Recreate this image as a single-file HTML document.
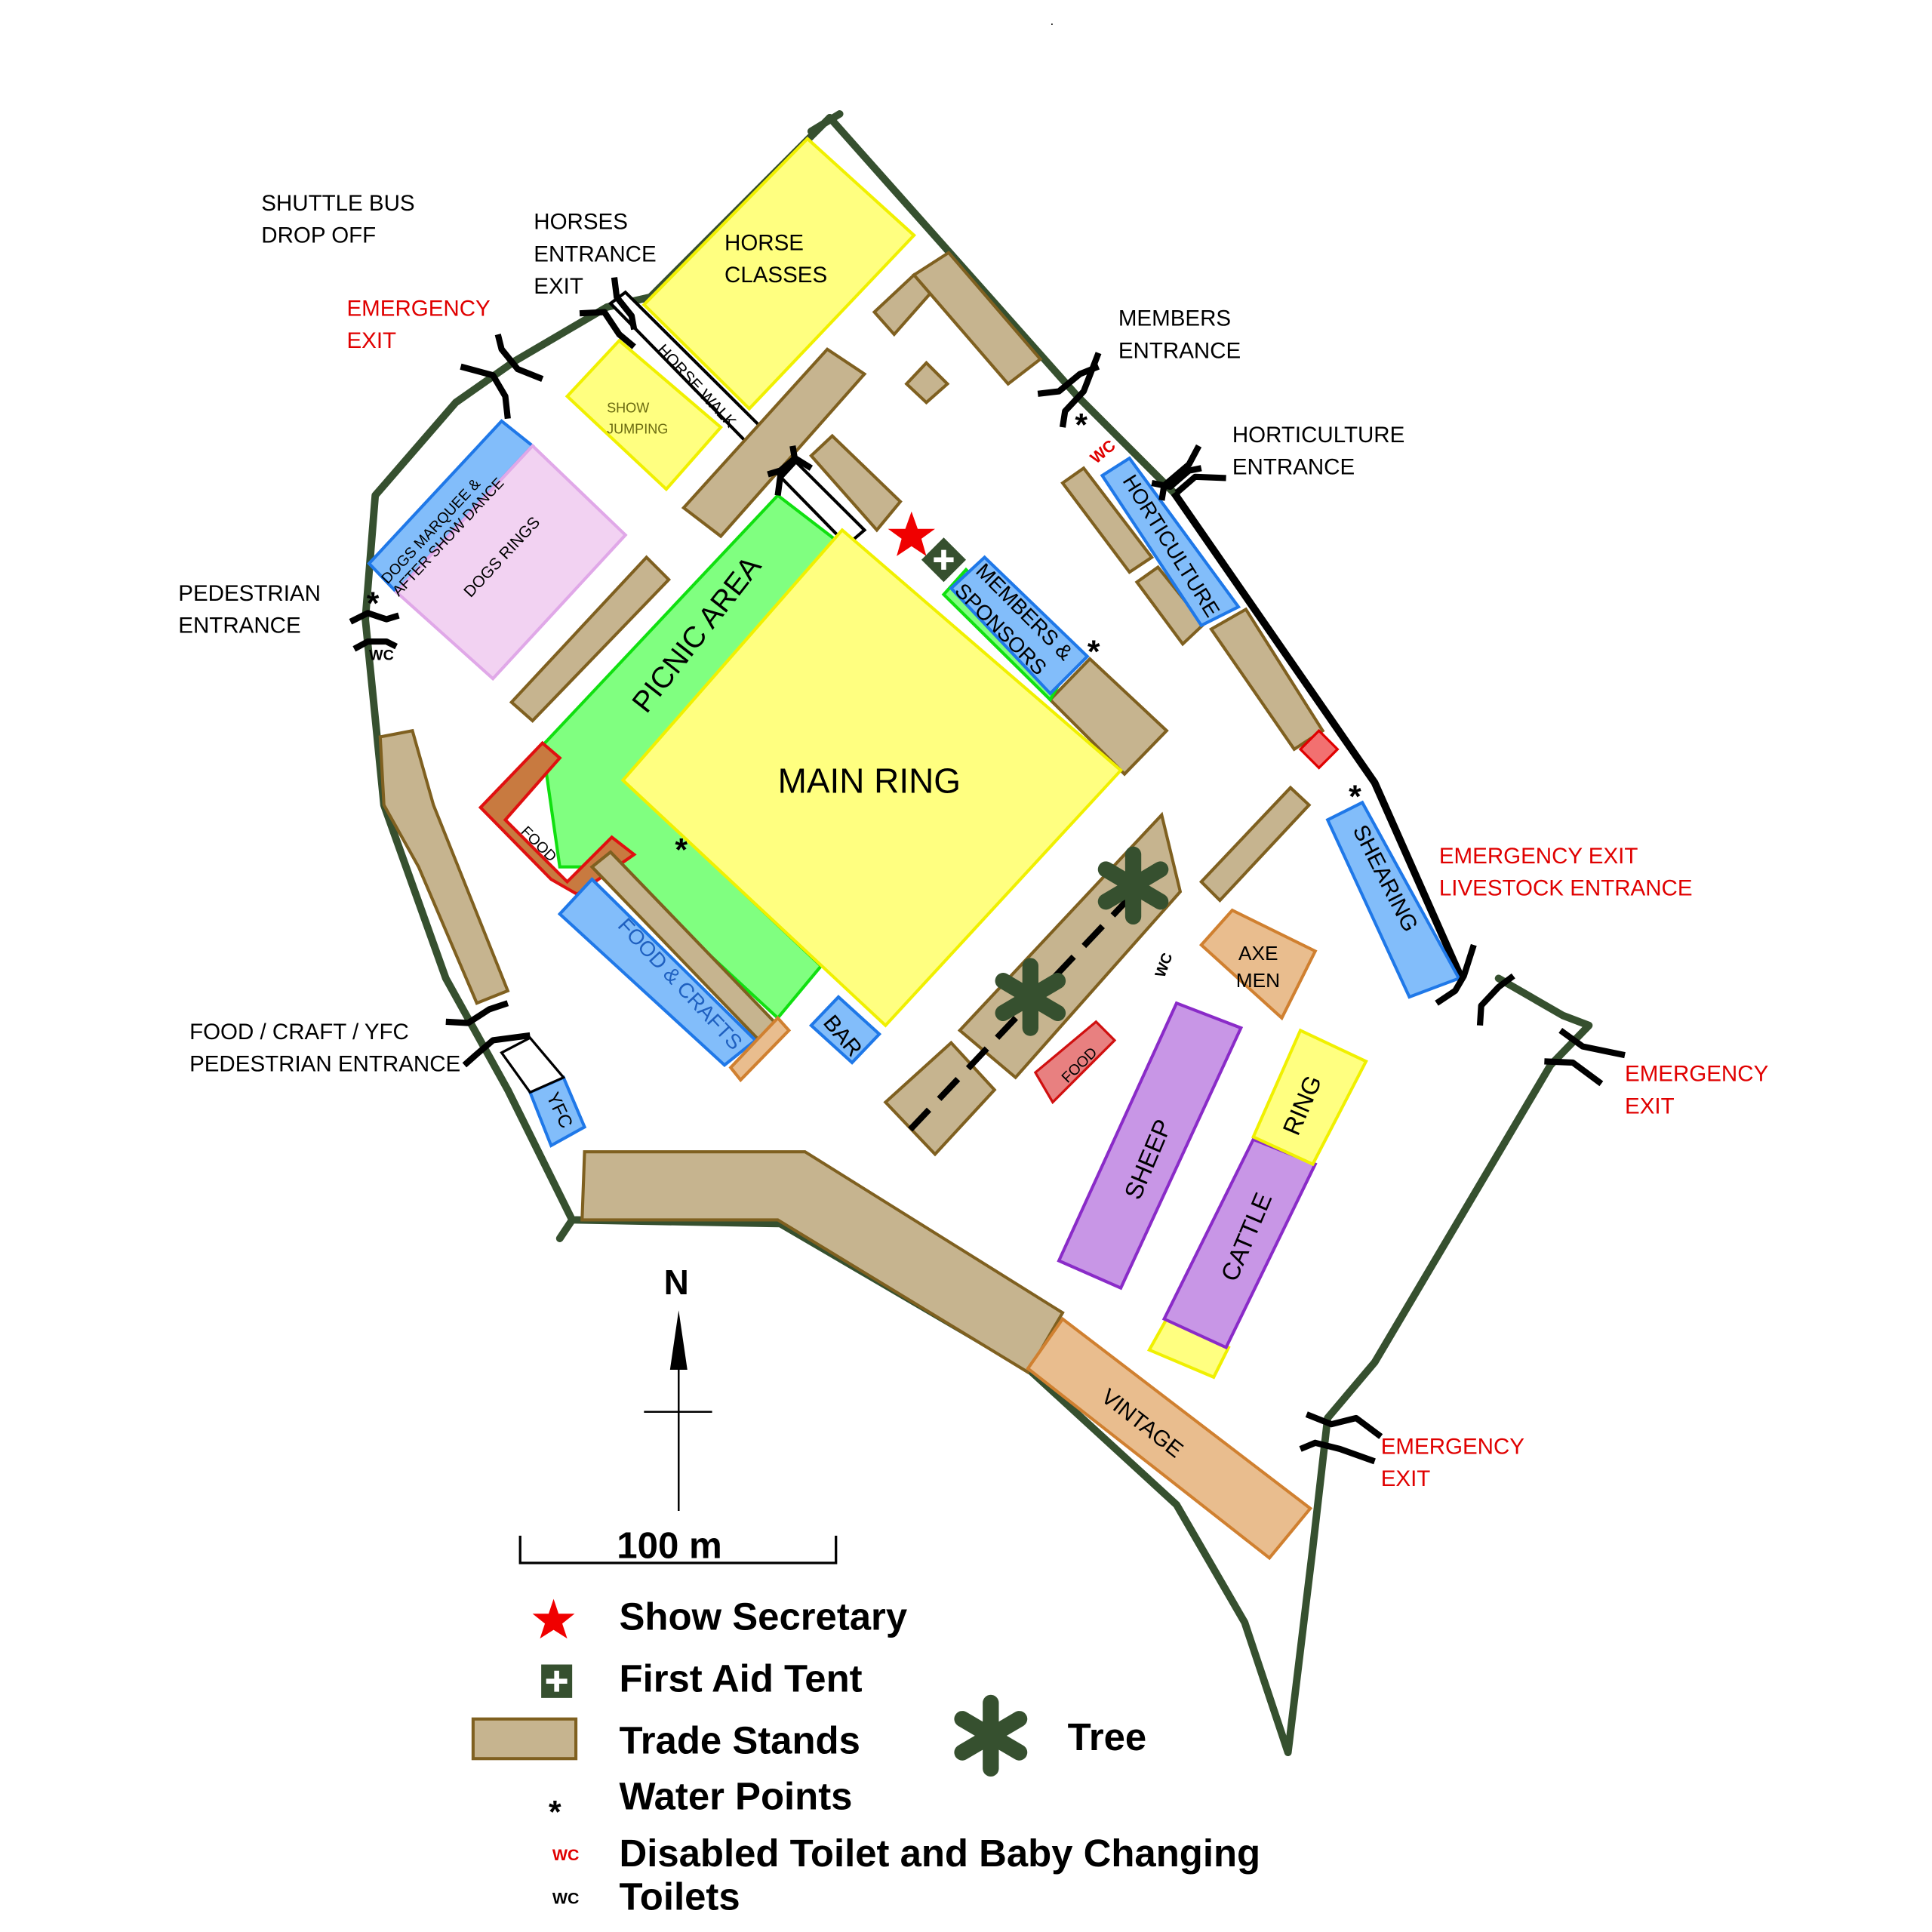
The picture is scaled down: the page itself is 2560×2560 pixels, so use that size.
<!DOCTYPE html>
<html><head><meta charset="utf-8"><style>
html,body{margin:0;padding:0;background:#fff}
svg{display:block}
text{font-family:"Liberation Sans","DejaVu Sans",sans-serif}
.t{fill:#c6b48f;stroke:#7f6020;stroke-width:2.5}
.b{fill:#82bdfa;stroke:#1f78e8;stroke-width:2.5}
.y{fill:#ffff80;stroke:#f0f000;stroke-width:2.5}
.g{fill:#80ff80;stroke:#10e010;stroke-width:2.5}
.p{fill:#c896e6;stroke:#8a2bc8;stroke-width:2.5}
.o{fill:#e9bd8e;stroke:#d08030;stroke-width:2.5}
.gate{fill:none;stroke:#000;stroke-width:5;stroke-linejoin:round}
.lb{font-size:18px;fill:#000}
.red{font-size:18px;fill:#e00000}
.lg{font-size:31px;font-weight:bold;fill:#000}
</style></head><body>
<svg width="2560" height="2560" viewBox="0 0 1560 1560" xmlns="http://www.w3.org/2000/svg">
<rect width="1560" height="1560" fill="#fff"/>
<!-- boundary -->
<g fill="none" stroke="#36502f" stroke-width="6" stroke-linejoin="round" stroke-linecap="round">
<path d="M678,92 L655,106 M670,95 L525,240 L490,248 L415,292 L368,325 L303,400 L295,500 L310,650 L360,790 L410,880 L462,985 L630,988 L830,1105 L950,1215 L1005,1310 L1040,1415 L1060,1250 L1072,1145 L1110,1100 L1252,860 L1283,828 L1262,820 L1210,790"/>
<path d="M670,95 L870,320 L950,400"/>
<path d="M462,985 L452,1000"/>
</g>
<path d="M948,398 L1110,632 L1180,790" fill="none" stroke="#000" stroke-width="6"/>
<!-- horse classes / show jumping -->
<polygon class="y" points="652,112 738,190 605,330 520,246"/>
<polygon class="y" points="500,275 582,345 538,395 458,320"/>
<text x="585" y="202" class="lb">HORSE</text><text x="585" y="228" class="lb">CLASSES</text>
<text x="490" y="333" font-size="11" fill="#6a6a10">SHOW</text><text x="490" y="350" font-size="11" fill="#6a6a10">JUMPING</text>
<!-- horse walk -->
<polygon points="493,245 505,236 698,428 684,440" fill="#fff" stroke="#000" stroke-width="2.5"/>
<text transform="translate(530,283) rotate(47)" font-size="13">HORSE WALK</text>
<!-- dogs -->
<polygon points="298,455 405,340 430,360 320,478" class="b"/>
<polygon points="430,360 505,432 398,548 320,478" fill="#f2d2f2" stroke="#e0a8e8" stroke-width="2.5"/>
<text transform="translate(313,472) rotate(-47)" font-size="12">DOGS MARQUEE &amp;</text>
<text transform="translate(322,482) rotate(-47)" font-size="12">AFTER SHOW DANCE</text>
<text transform="translate(380,483) rotate(-47)" font-size="13">DOGS RINGS</text>
<!-- trade stands -->
<polygon class="t" points="706,252 738,222 752,236 722,270"/>
<polygon class="t" points="738,222 766,204 840,290 814,310"/>
<polygon class="t" points="732,310 748,293 765,310 748,325"/>
<polygon class="t" points="552,410 668,282 698,302 582,433"/>
<polygon class="t" points="655,368 672,352 727,405 708,428"/>
<polygon class="t" points="413,567 522,450 540,468 430,582"/>
<polygon class="t" points="307,595 333,590 350,650 410,800 385,810 338,700 310,650"/>
<polygon class="t" points="858,390 875,378 930,450 912,462"/>
<polygon class="t" points="918,470 935,458 972,504 955,520"/>
<polygon class="t" points="978,508 1006,492 1068,590 1045,605"/>
<polygon class="t" points="848,565 880,532 942,590 908,625"/>
<polygon class="t" points="970,712 1042,636 1057,650 985,727"/>
<polygon class="t" points="775,832 938,658 953,720 820,870"/>
<polygon class="t" points="715,890 768,842 803,880 755,932"/>
<polygon class="t" points="472,930 650,930 858,1060 830,1108 628,985 470,985"/>
<!-- main ring & picnic -->
<polygon class="g" points="438,602 628,400 680,440 504,630 663,780 628,822 520,722 492,700 452,700"/>
<polygon class="y" points="680,428 905,622 715,828 503,630"/>
<polygon class="g" points="762,480 780,460 862,540 848,565"/>
<text x="628" y="640" font-size="28">MAIN RING</text>
<text transform="translate(522,577) rotate(-52)" font-size="24">PICNIC AREA</text>
<!-- food -->
<polygon points="388,652 438,600 452,612 408,662 458,712 494,676 512,690 466,722 445,710" fill="#c87a40" stroke="#e01010" stroke-width="2.5"/>
<text transform="translate(420,672) rotate(45)" font-size="12">FOOD</text>
<polygon class="t" points="478,700 493,688 628,828 613,840"/>
<polygon class="b" points="452,738 478,710 610,840 585,860"/>
<text transform="translate(498,748) rotate(47)" font-size="17" fill="#1f60c0">FOOD &amp; CRAFTS</text>
<polygon class="o" points="590,862 628,822 637,832 598,872"/>
<polygon class="b" points="655,828 677,805 710,835 688,858"/>
<text transform="translate(664,826) rotate(50)" font-size="18">BAR</text>
<polygon class="b" points="428,882 455,870 472,910 445,925"/>
<text transform="translate(441,885) rotate(65)" font-size="15">YFC</text>
<polygon points="405,850 428,838 455,870 428,882" fill="#fff" stroke="#000" stroke-width="2"/>
<!-- members & horticulture -->
<polygon class="b" points="768,475 795,450 878,530 848,560"/>
<text transform="translate(787,462) rotate(45)" font-size="17">MEMBERS &amp;</text>
<text transform="translate(770,478) rotate(45)" font-size="17">SPONSORS</text>
<polygon class="b" points="890,384 912,370 1000,490 970,505"/>
<text transform="translate(906,388) rotate(58)" font-size="17">HORTICULTURE</text>
<polygon class="b" points="1072,662 1100,648 1178,790 1138,805"/>
<text transform="translate(1092,670) rotate(63)" font-size="18">SHEARING</text>
<polygon points="1050,605 1065,590 1080,605 1065,620" fill="#f27070" stroke="#e00000" stroke-width="2"/>
<!-- livestock -->
<polygon points="836,866 885,825 900,840 850,890" fill="#e88080" stroke="#d01010" stroke-width="2"/>
<text transform="translate(862,875) rotate(-45)" font-size="12">FOOD</text>
<polygon class="o" points="970,763 995,735 1062,768 1035,822"/>
<text x="1000" y="775" font-size="16">AXE</text><text x="998" y="797" font-size="16">MEN</text>
<polygon class="p" points="855,1018 950,810 1002,830 905,1040"/>
<text transform="translate(920,970) rotate(-67)" font-size="20">SHEEP</text>
<polygon class="y" points="928,1090 942,1065 992,1088 980,1112"/>
<polygon class="p" points="940,1065 1012,920 1062,940 990,1088"/>
<text transform="translate(998,1036) rotate(-67)" font-size="20">CATTLE</text>
<polygon class="y" points="1012,918 1050,832 1103,857 1060,940"/>
<text transform="translate(1048,918) rotate(-67)" font-size="20">RING</text>
<polygon class="o" points="830,1105 858,1065 1058,1218 1025,1258"/>
<text transform="translate(888,1130) rotate(38)" font-size="18">VINTAGE</text>
<!-- dashed line and trees -->
<path d="M735,912 L945,690" stroke="#000" stroke-width="5" stroke-dasharray="22,12"/>
<g stroke="#36502f" stroke-width="13" stroke-linecap="round">
<path d="M915,690 V740 M893,702 L937,728 M893,728 L937,702"/>
<path d="M832,780 V830 M810,792 L854,818 M810,818 L854,792"/>
<path d="M800,1375 V1428 M777,1388 L823,1415 M777,1415 L823,1388"/>
</g>
<!-- star / first aid -->
<polygon points="736,413 741,427 755,427 744,435 748,449 736,441 724,449 728,435 717,427 731,427" fill="#f00000"/>
<polygon points="762,434 780,452 762,470 744,452" fill="#36502f"/>
<path d="M762,444 V460 M754,452 H770" stroke="#fff" stroke-width="4"/>
<!-- gates -->
<g class="gate">
<path d="M372,296 L398,303 L408,320 L410,338"/><path d="M402,270 L405,282 L418,298 L438,306"/>
<path d="M468,253 L488,252 L500,270 L512,280"/><path d="M496,224 L498,240 L510,255 L512,266"/>
<path d="M838,318 L855,316 L872,302 L887,296"/><path d="M858,345 L860,332 L875,316 L887,285"/>
<path d="M930,390 L945,393 L960,380 L970,378"/><path d="M938,404 L940,392 L960,375 L968,360"/><path d="M950,398 L965,385 L990,386"/>
<path d="M620,383 L630,380 L642,370 L655,378"/><path d="M628,400 L630,385 L642,372 L640,360"/>
<path d="M283,502 L297,495 L312,500 L322,497"/><path d="M286,524 L297,518 L312,518 L320,522"/>
<path d="M360,825 L378,826 L395,815 L410,810"/><path d="M375,860 L384,852 L398,840 L428,836"/>
<path d="M1160,810 L1175,800 L1182,788 L1190,763"/><path d="M1195,828 L1196,812 L1210,797 L1222,788"/>
<path d="M1247,857 L1270,858 L1293,875"/><path d="M1260,832 L1278,845 L1312,852"/>
<path d="M1050,1170 L1062,1165 L1082,1170 L1110,1180"/><path d="M1055,1142 L1075,1150 L1095,1145 L1115,1160"/>
</g>
<!-- water points and WC -->
<g font-size="26" font-weight="bold">
<text x="868" y="352">*</text><text x="878" y="535">*</text><text x="1089" y="652">*</text><text x="545" y="695">*</text><text x="296" y="496">*</text><text x="443" y="1472">*</text>
</g>
<text transform="translate(885,375) rotate(-40)" font-size="13" font-weight="bold" fill="#e00000">WC</text>
<text x="298" y="533" font-size="12" font-weight="bold">WC</text>
<text transform="translate(940,790) rotate(-70)" font-size="12" font-weight="bold">WC</text>
<!-- labels -->
<text x="211" y="170" class="lb">SHUTTLE BUS</text><text x="211" y="196" class="lb">DROP OFF</text>
<text x="431" y="185" class="lb">HORSES</text><text x="431" y="211" class="lb">ENTRANCE</text><text x="431" y="237" class="lb">EXIT</text>
<text x="280" y="255" class="red">EMERGENCY</text><text x="280" y="281" class="red">EXIT</text>
<text x="903" y="263" class="lb">MEMBERS</text><text x="903" y="289" class="lb">ENTRANCE</text>
<text x="995" y="357" class="lb">HORTICULTURE</text><text x="995" y="383" class="lb">ENTRANCE</text>
<text x="144" y="485" class="lb">PEDESTRIAN</text><text x="144" y="511" class="lb">ENTRANCE</text>
<text x="1162" y="697" class="red">EMERGENCY EXIT</text><text x="1162" y="723" class="red">LIVESTOCK ENTRANCE</text>
<text x="153" y="839" class="lb">FOOD / CRAFT / YFC</text><text x="153" y="865" class="lb">PEDESTRIAN ENTRANCE</text>
<text x="1312" y="873" class="red">EMERGENCY</text><text x="1312" y="899" class="red">EXIT</text>
<text x="1115" y="1174" class="red">EMERGENCY</text><text x="1115" y="1200" class="red">EXIT</text>
<text x="848" y="20" font-size="10">.</text>
<!-- north arrow & scale -->
<text x="536" y="1045" font-size="28" font-weight="bold">N</text>
<polygon points="548,1058 541,1106 555,1106" fill="#000"/>
<path d="M548,1100 V1220 M520,1140 H575" stroke="#000" stroke-width="1.5"/>
<path d="M420,1240 V1262 H675 V1240" fill="none" stroke="#000" stroke-width="2"/>
<text x="498" y="1258" font-size="30" font-weight="bold">100 m</text>
<!-- legend -->
<polygon points="447,1291 451,1303 464,1303 454,1311 458,1323 447,1316 436,1323 440,1311 430,1303 443,1303" fill="#f00000"/>
<rect x="437" y="1344" width="25" height="27" fill="#36502f"/>
<path d="M449.5,1349 V1366 M441,1357.5 H458" stroke="#fff" stroke-width="4"/>
<rect x="382" y="1388" width="83" height="32" class="t"/>
<text x="446" y="1502" font-size="13" font-weight="bold" fill="#e00000">WC</text>
<text x="446" y="1537" font-size="13" font-weight="bold">WC</text>
<text x="500" y="1316" class="lg">Show Secretary</text>
<text x="500" y="1366" class="lg">First Aid Tent</text>
<text x="500" y="1416" class="lg">Trade Stands</text>
<text x="862" y="1413" class="lg">Tree</text>
<text x="500" y="1461" class="lg">Water Points</text>
<text x="500" y="1507" class="lg">Disabled Toilet and Baby Changing</text>
<text x="500" y="1542" class="lg">Toilets</text>
</svg>
</body></html>
